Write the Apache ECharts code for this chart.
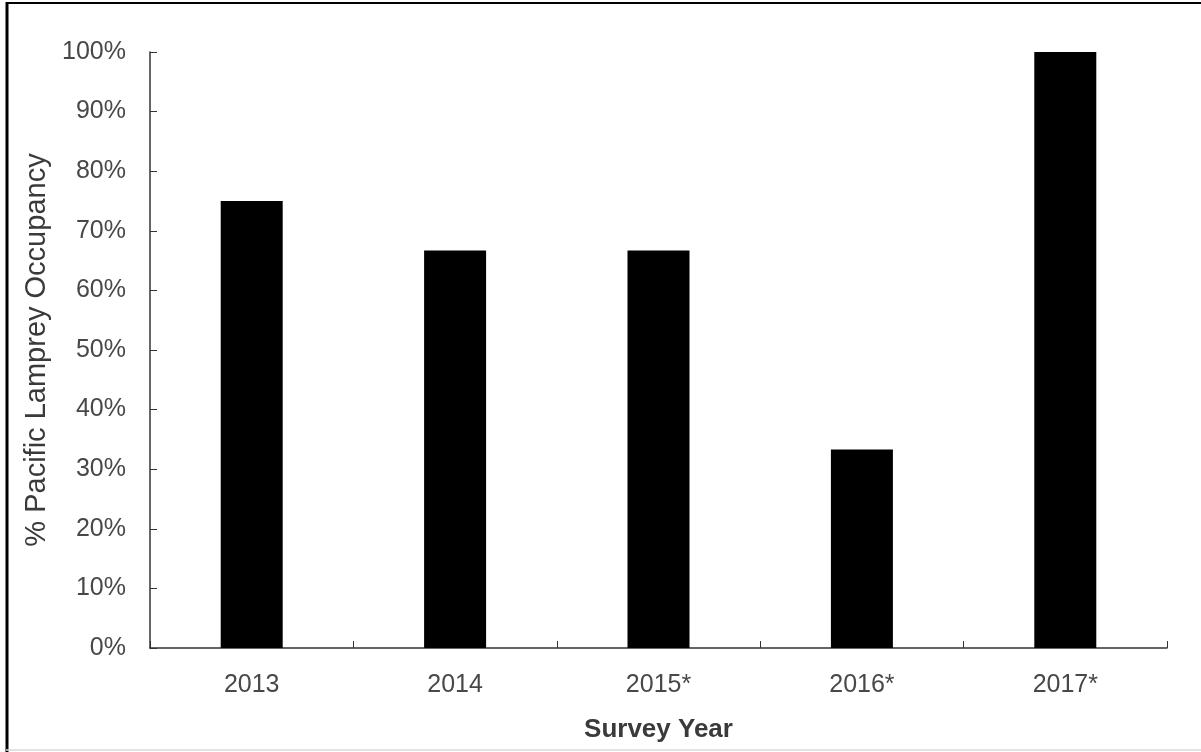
<!DOCTYPE html>
<html>
<head>
<meta charset="utf-8">
<script src="https://cdn.jsdelivr.net/npm/echarts@6/dist/echarts.min.js"></script>
<style>
html,body{margin:0;padding:0;background:#fff;}
#chart{width:1201px;height:752px;}
</style>
</head>
<body>
<div id="chart"></div>
<script>
const categories = ['2013', '2014', '2015*', '2016*', '2017*'];
const occupancy = [75, 66.7, 66.7, 33.3, 100];
const yTicks = [0, 10, 20, 30, 40, 50, 60, 70, 80, 90, 100];

const chart = echarts.init(document.getElementById('chart'));
const fontFam = '"Liberation Sans", Arial, Helvetica, sans-serif';
chart.setOption({
  animation: false,
  backgroundColor: '#ffffff',
  graphic: [
    { type: 'line', shape: { x1: 7, y1: 2, x2: 7, y2: 752 }, style: { stroke: '#000', lineWidth: 3 } },
    { type: 'line', shape: { x1: 6, y1: 3, x2: 1201, y2: 3 }, style: { stroke: '#000', lineWidth: 2 } },
    { type: 'line', shape: { x1: 6, y1: 750, x2: 1201, y2: 750 }, style: { stroke: '#d8d8d8', lineWidth: 1.5 } }
  ],
  grid: { left: 150, right: 34, top: 52, bottom: 104 },
  xAxis: {
    type: 'category',
    data: categories,
    name: 'Survey Year',
    nameLocation: 'middle',
    nameGap: 69,
    nameTextStyle: { fontFamily: fontFam, fontSize: 26, fontWeight: 'bold', color: '#3a3a3a' },
    axisLine: { lineStyle: { color: '#333', width: 1.5 } },
    axisTick: { show: true, inside: true, length: 7, alignWithLabel: false, lineStyle: { color: '#333' } },
    axisLabel: { fontFamily: fontFam, fontSize: 25, color: '#484848', margin: 25 },
    splitLine: { show: false }
  },
  yAxis: {
    type: 'value',
    min: 0, max: 100, interval: 10,
    name: '% Pacific Lamprey Occupancy',
    nameLocation: 'middle',
    nameGap: 90,
    nameRotate: 90,
    nameTextStyle: { fontFamily: fontFam, fontSize: 29, color: '#3a3a3a' },
    axisLine: { show: true, lineStyle: { color: '#333', width: 1.5 } },
    axisTick: { show: true, inside: true, length: 7, lineStyle: { color: '#333' } },
    axisLabel: {
      fontFamily: fontFam, fontSize: 25, color: '#484848', margin: 24,
      formatter: v => (yTicks.indexOf(v) >= 0 ? v + '%' : '')
    },
    splitLine: { show: false }
  },
  series: [{
    type: 'bar',
    data: occupancy,
    barWidth: 62,
    itemStyle: { color: '#000000' }
  }]
});
</script>
</body>
</html>
